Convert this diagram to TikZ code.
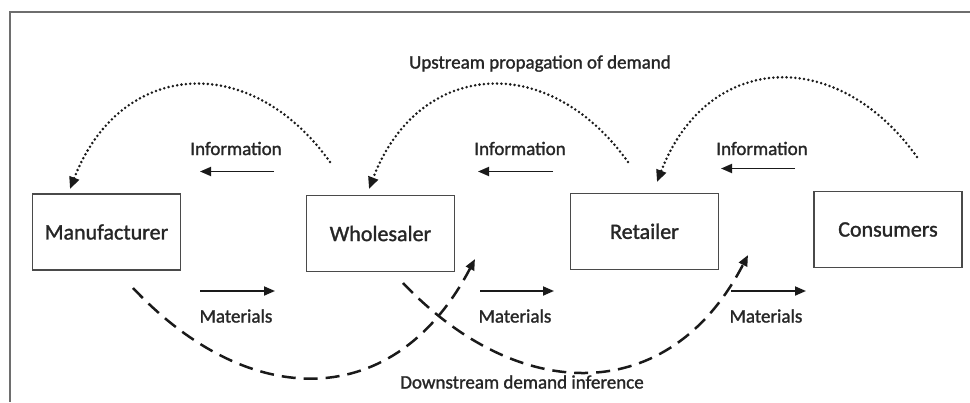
\documentclass[tikz,border=0pt]{standalone}
\usepackage{fontspec}
\setmainfont{Carlito}
\usetikzlibrary{arrows.meta}
\definecolor{txt}{HTML}{262626}
\definecolor{ink}{HTML}{1A1A1A}
\definecolor{boxline}{HTML}{4A4A4A}
\definecolor{frameline}{HTML}{6E6E6E}
\newcommand{\heavier}{\addfontfeature{FakeBold=1.4}}
\tikzset{
  party/.style={draw=boxline, line width=1.4pt, minimum width=148pt, minimum height=76pt,
    inner sep=0pt, text=txt, font=\fontsize{22}{24}\selectfont\heavier},
  flowlabel/.style={text=txt, anchor=base, inner sep=0pt, font=\fontsize{19}{21}\selectfont\heavier},
  flowarrow/.style={draw=ink, line width=1.8pt, -{Triangle[length=11pt,width=9pt]}},
  upstream/.style={draw=ink, line width=2.8pt, line cap=round, dash pattern=on 0pt off 4.4pt,
    -{Triangle[length=12pt,width=10pt,line cap=butt]}},
  downstream/.style={draw=ink, line width=2.5pt, dash pattern=on 14pt off 8pt,
    -{Triangle[length=11pt,width=9pt]}}
}
\begin{document}
\begin{tikzpicture}[x=1pt,y=-1pt]
  \useasboundingbox (0,0) rectangle (970,402);
  % outer frame (top and left edges)
  \draw[frameline, line width=2pt] (970,12) -- (10,12) -- (10,402);

  % parties of the chain
  \node[party] (man) at (106.5,232) {Manufacturer};
  \node[party] (who) at (380.5,233.5) {Wholesaler};
  \node[party] (ret) at (644.5,231.3) {Retailer};
  \node[party] (con) at (888,229.5) {Consumers};

  % information flows (right to left)
  \coordinate (i1a) at (274,171.5); \coordinate (i1b) at (200,171.5);
  \coordinate (i2a) at (553,171.5); \coordinate (i2b) at (478,171.5);
  \coordinate (i3a) at (795,168.5); \coordinate (i3b) at (721,168.5);
  \draw[flowarrow] (i1a) -- (i1b);
  \draw[flowarrow] (i2a) -- (i2b);
  \draw[flowarrow] (i3a) -- (i3b);
  \node[flowlabel] (inf1) at (236,155) {Information};
  \node[flowlabel] (inf2) at (520,155) {Information};
  \node[flowlabel] (inf3) at (762,155) {Information};

  % material flows (left to right)
  \coordinate (m1a) at (200,291); \coordinate (m1b) at (275,291);
  \coordinate (m2a) at (480,291); \coordinate (m2b) at (554,291);
  \coordinate (m3a) at (731,291); \coordinate (m3b) at (806,291);
  \draw[flowarrow] (m1a) -- (m1b);
  \draw[flowarrow] (m2a) -- (m2b);
  \draw[flowarrow] (m3a) -- (m3b);
  \node[flowlabel] (mat1) at (236,322.5) {Materials};
  \node[flowlabel] (mat2) at (515,322.5) {Materials};
  \node[flowlabel] (mat3) at (766,322.5) {Materials};

  % upstream propagation of demand (dotted arcs)
  \coordinate (u1s) at (330,162); \coordinate (u1e) at (70,189);
  \coordinate (u2s) at (628,162); \coordinate (u2e) at (369,189);
  \coordinate (u3s) at (917,157); \coordinate (u3e) at (657,182);
  \draw[upstream] (u1s) .. controls (250,50) and (120,60) .. (u1e);
  \draw[upstream] (u2s) .. controls (548,50) and (418,60) .. (u2e);
  \draw[upstream] (u3s) .. controls (837,45) and (707,52) .. (u3e);
  \node[flowlabel] (uptitle) at (540,68.5) {Upstream propagation of demand};

  % downstream demand inference (dashed arcs)
  \coordinate (d1s) at (133,288); \coordinate (d1e) at (475,259);
  \coordinate (d2s) at (403,283); \coordinate (d2e) at (748,255);
  \draw[downstream] (d1s) .. controls (250,412) and (395,412) .. (d1e);
  \draw[downstream] (d2s) .. controls (520,406) and (670,406) .. (d2e);
  \node[flowlabel] (downtitle) at (522,388.5) {Downstream demand inference};
\end{tikzpicture}
\end{document}
